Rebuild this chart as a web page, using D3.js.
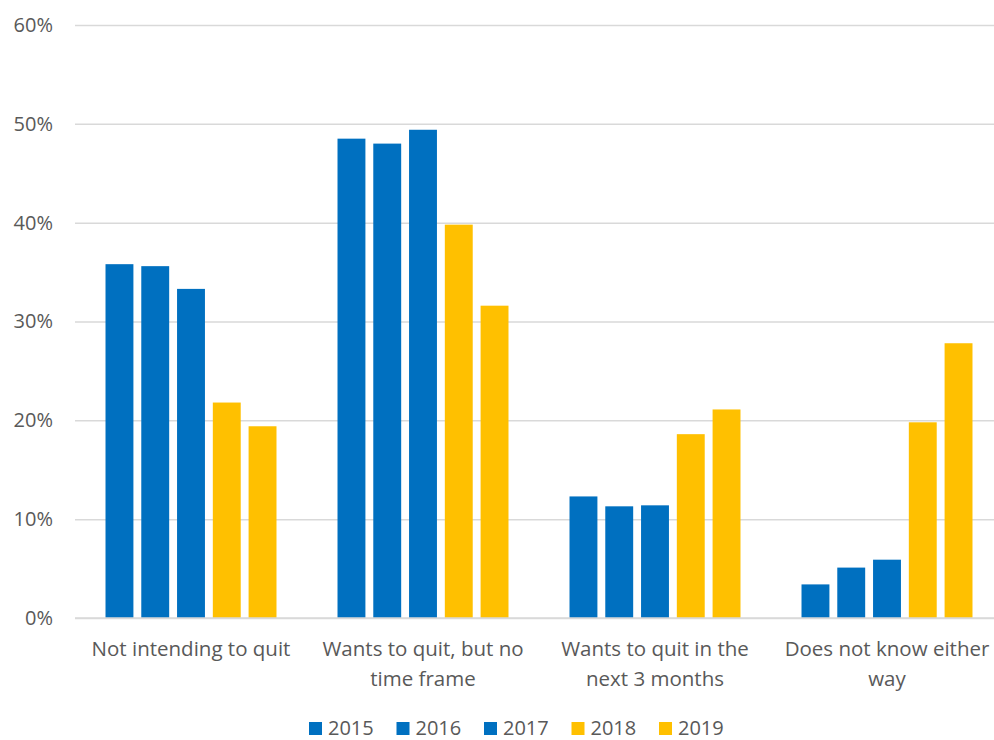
<!DOCTYPE html>
<html>
<head>
<meta charset="utf-8">
<script src="https://cdn.jsdelivr.net/npm/d3@7"></script>
<style>
  body { margin: 0; background: #fff; }
  svg { display: block; }
</style>
</head>
<body>
<script>
// categories and series (values in %)
var categories = ['Not intending to quit', 'Wants to quit, but no time frame',
    'Wants to quit in the next 3 months', 'Does not know either way'];
var years = ['2015', '2016', '2017', '2018', '2019'];
var yearColors = ['#0070C0', '#0070C0', '#0070C0', '#FFC000', '#FFC000'];
var values2015 = [35.8, 48.5, 12.3, 3.4];
var values2016 = [35.6, 48.0, 11.3, 5.1];
var values2017 = [33.3, 49.4, 11.4, 5.9];
var values2018 = [21.8, 39.8, 18.6, 19.8];
var values2019 = [19.4, 31.6, 21.1, 27.8];
var yTicks = [0, 10, 20, 30, 40, 50, 60];

var series = [values2015, values2016, values2017, values2018, values2019];

var width = 994,
    height = 740,
    plotLeft = 75,
    plotRight = 1003,
    plotTop = 25,
    plotBottom = 618,
    font = '"Open Sans", sans-serif',
    textColor = '#595959';

var svg = d3.select('body').append('svg')
    .attr('width', width)
    .attr('height', height);

var x = d3.scaleBand()
    .domain(categories)
    .range([plotLeft, plotRight])
    .paddingInner(0.263)
    .paddingOuter(0.1315);

var x1 = d3.scaleBand()
    .domain(years)
    .range([0, x.bandwidth()])
    .paddingInner(0.22);

var y = d3.scaleLinear()
    .domain([0, 60])
    .range([plotBottom, plotTop]);

// gridlines + y labels
var yAxis = d3.axisLeft(y)
    .tickValues(yTicks)
    .tickSize(-(plotRight - plotLeft))
    .tickPadding(22)
    .tickFormat(function(d) { return d + '%'; });

var gy = svg.append('g')
    .attr('transform', 'translate(' + plotLeft + ',0)')
    .call(yAxis);
gy.select('.domain').remove();
gy.selectAll('.tick line')
    .attr('stroke', '#D9D9D9')
    .attr('stroke-width', 1.5);
gy.selectAll('.tick text')
    .attr('fill', textColor)
    .attr('font-family', font)
    .attr('font-size', '20px');

// bars
var groups = svg.append('g')
    .selectAll('g')
    .data(categories)
    .enter()
    .append('g')
    .attr('transform', function(d) { return 'translate(' + x(d) + ',0)'; });

groups.selectAll('rect')
    .data(function(d, ci) {
        return years.map(function(yr, si) {
            return { year: yr, value: series[si][ci], color: yearColors[si] };
        });
    })
    .enter()
    .append('rect')
    .attr('x', function(d) { return x1(d.year); })
    .attr('y', function(d) { return y(d.value); })
    .attr('width', x1.bandwidth())
    .attr('height', function(d) { return plotBottom - y(d.value); })
    .attr('fill', function(d) { return d.color; });

// x axis line
svg.append('line')
    .attr('x1', plotLeft).attr('x2', plotRight)
    .attr('y1', plotBottom).attr('y2', plotBottom)
    .attr('stroke', '#D9D9D9')
    .attr('stroke-width', 1.5);

// category labels, wrapped
var xAxis = d3.axisBottom(x).tickSize(0).tickPadding(0);
var gx = svg.append('g')
    .attr('transform', 'translate(0,' + plotBottom + ')')
    .call(xAxis);
gx.select('.domain').remove();
gx.selectAll('.tick text')
    .attr('fill', textColor)
    .attr('font-family', font)
    .attr('font-size', '20.5px')
    .call(wrap, 218);

function wrap(sel, w) {
    sel.each(function() {
        var text = d3.select(this),
            words = text.text().split(/\s+/),
            line = [],
            lineNo = 0,
            tspan = text.text(null).append('tspan')
                .attr('x', 0).attr('y', 38);
        words.forEach(function(word) {
            line.push(word);
            tspan.text(line.join(' '));
            if (tspan.node().getComputedTextLength() > w && line.length > 1) {
                line.pop();
                tspan.text(line.join(' '));
                line = [word];
                lineNo++;
                tspan = text.append('tspan')
                    .attr('x', 0).attr('y', 38 + lineNo * 30)
                    .text(word);
            }
        });
        text.attr('dy', null);
    });
}

// legend
var legend = svg.append('g')
    .selectAll('g')
    .data(years)
    .enter()
    .append('g')
    .attr('transform', function(d, i) {
        return 'translate(' + (309 + i * 87.5) + ',722)';
    });

legend.append('rect')
    .attr('width', 13)
    .attr('height', 13)
    .attr('fill', function(d, i) { return yearColors[i]; });

legend.append('text')
    .attr('x', 19)
    .attr('y', 13)
    .attr('fill', textColor)
    .attr('font-family', font)
    .attr('font-size', '20px')
    .text(function(d) { return d; });
</script>
</body>
</html>
